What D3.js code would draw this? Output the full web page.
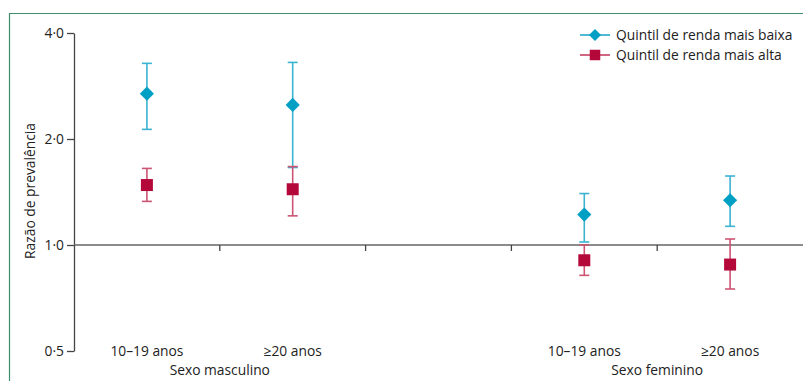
<!DOCTYPE html>
<html>
<head>
<meta charset="utf-8">
<script src="https://cdn.jsdelivr.net/npm/d3@7"></script>
<style>
  body { margin: 0; background: #fff; }
  text { font-family: "Open Sans", "Noto Sans", sans-serif; fill: #222; }
</style>
</head>
<body>
<div id="chart"></div>
<script>
var w = 803;
var h = 381;
var margin = { top: 33, right: 0, bottom: 30, left: 74 };
var fs = 13.8;

// categories (5 bands, middle one empty)
var groups = ["m1019", "m20", "gap", "f1019", "f20"];
var groupLabels = ["10–19 anos", "≥20 anos", "", "10–19 anos", "≥20 anos"];
var sexLabels = ["Sexo masculino", "Sexo feminino"];
var yTicks = [0.5, 1, 2, 4];

// lowest income quintile
var lowVal = [2.69, 2.50, null, 1.22, 1.34];
var lowLo  = [2.13, 1.66, null, 1.02, 1.13];
var lowHi  = [3.28, 3.30, null, 1.40, 1.57];
// highest income quintile
var highVal = [1.48, 1.44, null, 0.905, 0.88];
var highLo  = [1.33, 1.21, null, 0.82, 0.75];
var highHi  = [1.65, 1.67, null, 1.00, 1.04];

var series = [
    { name: "Quintil de renda mais baixa", val: lowVal, lo: lowLo, hi: lowHi, color: "#009fc4", bar: "#3cb3d1", shape: "diamond" },
    { name: "Quintil de renda mais alta", val: highVal, lo: highLo, hi: highHi, color: "#b5083a", bar: "#cc5574", shape: "square" }
];

var xscale = d3.scaleBand().domain(groups).range([margin.left, w - margin.right]);
var yscale = d3.scaleLog().base(2).domain([0.5, 4]).range([h - margin.bottom, margin.top]);

var svg = d3.select("#chart")
            .append("svg")
            .attr("width", w)
            .attr("height", h);

// green frame
svg.append("path")
   .attr("d", "M9.5," + h + "V13.5H" + w)
   .attr("fill", "none")
   .attr("stroke", "#3f8f6e")
   .attr("stroke-width", 1.2);

// y axis
var yAxis = svg.append("g")
   .attr("transform", "translate(" + margin.left + ",0)")
   .call(d3.axisLeft(yscale).tickValues(yTicks).tickSize(7).tickSizeOuter(0)
         .tickFormat(d => d3.format(".1f")(d).replace(".", "·")));
yAxis.select(".domain").attr("stroke", "#444").attr("stroke-width", 1.3);
yAxis.selectAll(".tick line").attr("stroke", "#444").attr("stroke-width", 1.3);
yAxis.selectAll(".tick text").attr("font-size", fs).attr("fill", "#222").attr("x", -10)
     .style("font-family", "'Open Sans', sans-serif");

// reference line at 1.0 with band separators
svg.append("line")
   .attr("x1", margin.left).attr("x2", w)
   .attr("y1", yscale(1)).attr("y2", yscale(1))
   .attr("stroke", "#666").attr("stroke-width", 1.6);

svg.selectAll("line.sep")
   .data(groups.slice(1))
   .enter()
   .append("line")
   .attr("class", "sep")
   .attr("x1", d => xscale(d)).attr("x2", d => xscale(d))
   .attr("y1", yscale(1)).attr("y2", yscale(1) + 6)
   .attr("stroke", "#444").attr("stroke-width", 1.3);

// y label
svg.append("text")
   .attr("transform", "rotate(-90)")
   .attr("x", -191)
   .attr("y", 35)
   .attr("text-anchor", "middle")
   .attr("font-size", fs)
   .text("Razão de prevalência");

// x labels
svg.selectAll("text.grp")
   .data(groups)
   .enter()
   .append("text")
   .attr("class", "grp")
   .attr("x", d => xscale(d) + xscale.bandwidth() / 2)
   .attr("y", 356)
   .attr("text-anchor", "middle")
   .attr("font-size", fs)
   .text((d, i) => groupLabels[i]);

svg.selectAll("text.sex")
   .data(sexLabels)
   .enter()
   .append("text")
   .attr("class", "sex")
   .attr("x", (d, i) => i === 0 ? xscale("m20") : xscale("f20"))
   .attr("y", 375)
   .attr("text-anchor", "middle")
   .attr("font-size", fs)
   .text(d => d);

var diamond = d3.symbol().type(d3.symbolSquare).size(100);
var square = d3.symbol().type(d3.symbolSquare).size(144);
var cap = 5;

series.forEach(function(s) {
    var pts = groups.map((g, i) => ({ g: g, v: s.val[i], lo: s.lo[i], hi: s.hi[i] }))
                    .filter(d => d.v != null);
    var cx = d => xscale(d.g) + xscale.bandwidth() / 2;
    var grp = svg.append("g");

    grp.selectAll("line.err")
       .data(pts).enter().append("line")
       .attr("x1", cx).attr("x2", cx)
       .attr("y1", d => yscale(d.lo)).attr("y2", d => yscale(d.hi))
       .attr("stroke", s.bar).attr("stroke-width", 1.6);

    ["lo", "hi"].forEach(function(k) {
        grp.selectAll("line.cap" + k)
           .data(pts).enter().append("line")
           .attr("x1", d => cx(d) - cap).attr("x2", d => cx(d) + cap)
           .attr("y1", d => yscale(d[k])).attr("y2", d => yscale(d[k]))
           .attr("stroke", s.bar).attr("stroke-width", 1.6);
    });

    grp.selectAll("path.mark")
       .data(pts).enter().append("path")
       .attr("d", s.shape === "diamond" ? diamond : square)
       .attr("transform", d => "translate(" + cx(d) + "," + yscale(d.v) + ")" + (s.shape === "diamond" ? " rotate(45)" : ""))
       .attr("fill", s.color);
});

// legend
var legend = svg.selectAll("g.legend")
   .data(series)
   .enter()
   .append("g")
   .attr("class", "legend")
   .attr("transform", (d, i) => "translate(580," + (35 + i * 20) + ")");

legend.append("line")
   .attr("x1", 0).attr("x2", 30)
   .attr("stroke", d => d.bar).attr("stroke-width", 1.8);

legend.append("path")
   .attr("d", d => d.shape === "diamond" ? d3.symbol().type(d3.symbolSquare).size(72)() : d3.symbol().type(d3.symbolSquare).size(110)())
   .attr("transform", d => "translate(15,0)" + (d.shape === "diamond" ? " rotate(45)" : ""))
   .attr("fill", d => d.color);

legend.append("text")
   .attr("x", 36)
   .attr("y", 0)
   .attr("dy", "0.35em")
   .attr("font-size", fs)
   .text(d => d.name);
</script>
</body>
</html>
